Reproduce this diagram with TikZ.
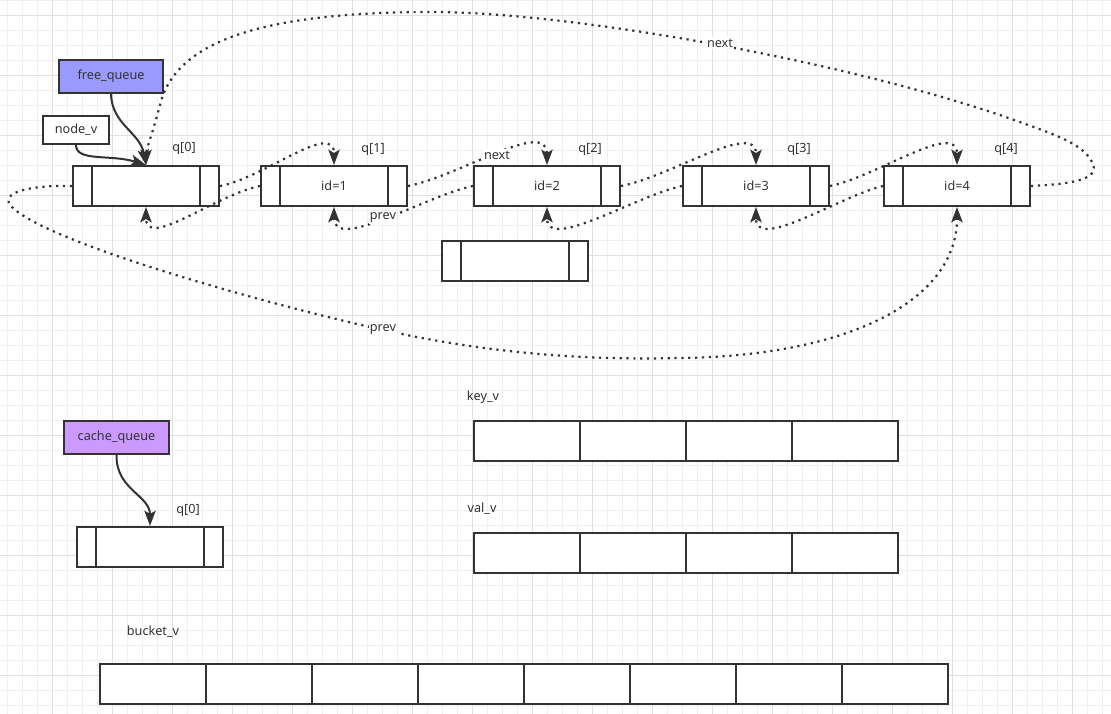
\documentclass[tikz,border=0pt]{standalone}
\usepackage{fontspec}
\setmainfont{Noto Sans}
\usetikzlibrary{arrows.meta}
\definecolor{lc}{HTML}{333333}
\definecolor{freec}{HTML}{9999FF}
\definecolor{cachec}{HTML}{CC99FF}
\definecolor{gminor}{HTML}{F0F0F0}
\definecolor{gmajor}{HTML}{E0E0E0}
\tikzset{
  box/.style={draw=lc, line width=1.5pt, fill=white, inner sep=0pt, minimum height=30pt, text=lc, font=\fontsize{9.5}{11}\selectfont},
  qbox/.style={box, minimum width=109.5pt},
  cell/.style={box, minimum width=79.5pt},
  lbl/.style={text=lc, font=\fontsize{9.5}{11}\selectfont, inner sep=1pt},
  lblbg/.style={lbl, fill=white},
  divider/.style={draw=lc, line width=1.5pt},
  ptr/.style={draw=lc, line width=1.5pt, -{Stealth[length=11.5pt,width=8.5pt,inset=2.5pt]}},
  link/.style={ptr, line width=1.65pt, dash pattern=on 1.65pt off 3.5pt},
}
\begin{document}
\begin{tikzpicture}[x=0.75pt, y=-0.75pt]
\useasboundingbox (0,0) rectangle (1111,714);
\fill[white] (0,0) rectangle (1111,714);
% grid
\foreach \x in {7,22,...,1111} \draw[gminor, line width=0.75pt] (\x,0) -- (\x,714);
\foreach \y in {0,15,...,714} \draw[gminor, line width=0.75pt] (0,\y) -- (1111,\y);
\foreach \x in {52,112,...,1111} \draw[gmajor, line width=0.75pt] (\x,0) -- (\x,714);
\foreach \y in {15,75,...,714} \draw[gmajor, line width=0.75pt] (0,\y) -- (1111,\y);

% top queue boxes
\node[qbox] (q0) at (146,186) {};
\node[qbox] (q1) at (334,186) {id=1};
\node[qbox] (q2) at (547,186) {id=2};
\node[qbox] (q3) at (756,186) {id=3};
\node[qbox] (q4) at (957,186) {id=4};
\node[qbox] (qx) at (515,261) {};
\node[qbox] (cq0) at (150,547) {};
\foreach \n in {q0,q1,q2,q3,q4,qx,cq0}{
  \draw[divider] ([xshift=15pt]\n.north west) -- ([xshift=15pt]\n.south west);
  \draw[divider] ([xshift=-15pt]\n.north east) -- ([xshift=-15pt]\n.south east);
}
\node[lbl] (lq0) at (184,148) {q[0]};
\node[lbl] (lq1) at (373,149) {q[1]};
\node[lbl] (lq2) at (590,149) {q[2]};
\node[lbl] (lq3) at (799,149) {q[3]};
\node[lbl] (lq4) at (1006,149) {q[4]};
\node[lbl] (lcq0) at (188,510) {q[0]};

% pointer boxes
\node[box, minimum width=78pt, minimum height=24.75pt, fill=freec] (free) at (111,76.5) {free\_queue};
\node[box, minimum width=49.5pt, minimum height=21pt] (nodev) at (76,130) {node\_v};
\node[box, minimum width=78.75pt, minimum height=24.75pt, fill=cachec] (cache) at (116.5,437.5) {cache\_queue};

% arrays
\node[lbl] (lkey) at (483,397) {key\_v};
\node[lbl] (lval) at (482,509) {val\_v};
\node[lbl] (lbucket) at (153,632) {bucket\_v};
\foreach \i/\x in {1/527,2/633,3/739,4/845}{
  \node[cell] (k\i) at (\x,441) {};
  \node[cell] (v\i) at (\x,553) {};
}
\foreach \i/\x in {1/153,2/259,3/365,4/471,5/577,6/683,7/789,8/895}{
  \node[cell] (b\i) at (\x,684) {};
}

% solid pointers
\draw[ptr] (free.south) .. controls (112,125) and (140,132) .. (q0.north);
\draw[ptr] (nodev.south) .. controls (76,162) and (110,154) .. (q0.north);
\draw[ptr] (cache.south) .. controls (116,490) and (150,495) .. (cq0.north);

% next links
\draw[link] (q0.east) .. controls (264,178) and (334,120) .. (q1.north);
\draw[link] (q1.east) .. controls (460,176) and (547,118) .. (q2.north);
\draw[link] (q2.east) .. controls (670,177) and (756,120) .. (q3.north);
\draw[link] (q3.east) .. controls (876,177) and (957,120) .. (q4.north);
% prev links
\draw[link] (q1.west) .. controls (215,195) and (146,250) .. (q0.south);
\draw[link] (q2.west) .. controls (425,196) and (334,252) .. (q1.south);
\draw[link] (q3.west) .. controls (635,196) and (547,252) .. (q2.south);
\draw[link] (q4.west) .. controls (840,196) and (756,252) .. (q3.south);

% long next: q4 -> q0
\draw[link] (q4.east) .. controls (1070,184) and (1102,180) .. (1092,162)
  .. controls (1082,142) and (1050,133) .. (1000,115)
  .. controls (820,55) and (560,12) .. (433,12)
  .. controls (260,12) and (175,42) .. (160,105)
  .. controls (153,132) and (146,150) .. (q0.north);
% long prev: q0 -> q4
\draw[link] (q0.west) .. controls (40,185) and (0,190) .. (10,205)
  .. controls (40,240) and (250,300) .. (383,330)
  .. controls (500,356) and (600,360) .. (680,358)
  .. controls (850,356) and (957,300) .. (q4.south);

% link labels
\node[lblbg] (lnext1) at (497,155) {next};
\node[lblbg] (lprev1) at (383,218) {prev};
\node[lblbg] (lnext2) at (720,43) {next};
\node[lblbg] (lprev2) at (383,330) {prev};
\end{tikzpicture}
\end{document}
